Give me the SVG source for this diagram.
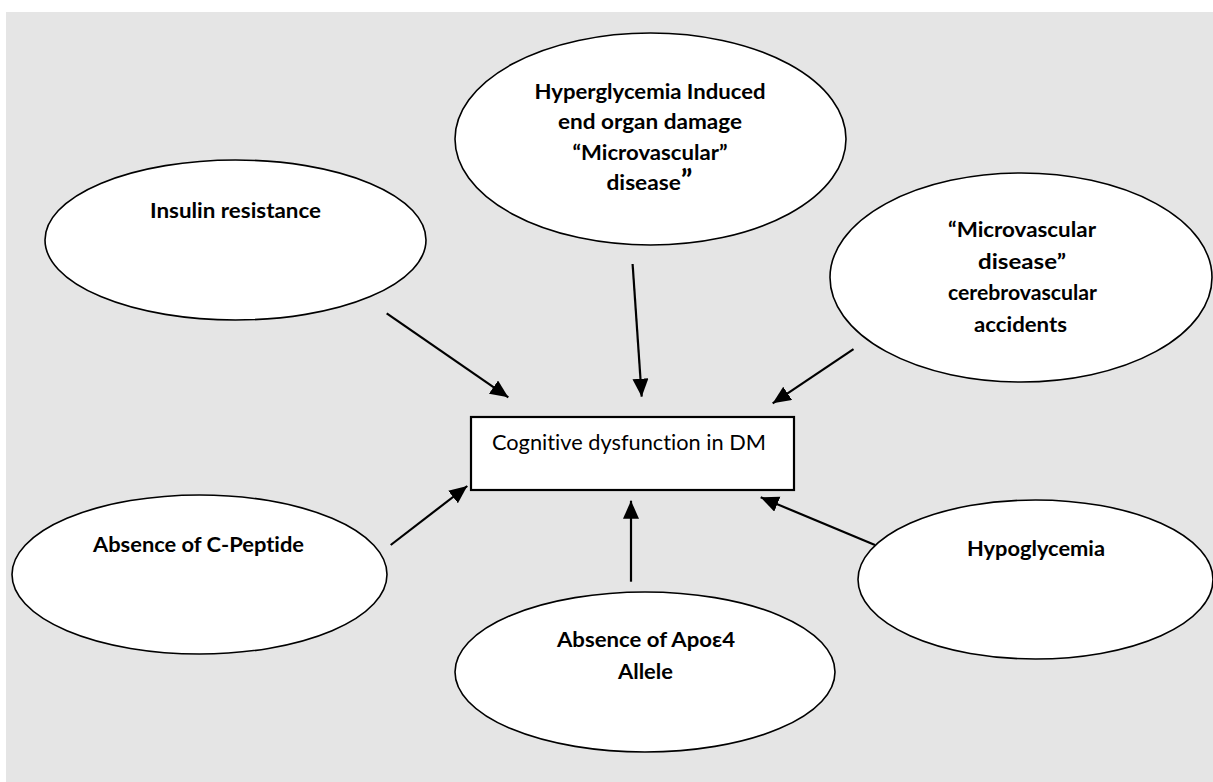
<svg xmlns="http://www.w3.org/2000/svg" width="1213" height="782" viewBox="0 0 1213 782">
  <style>
    .node { fill: #ffffff; stroke: #000000; stroke-width: 1.6; }
    .box { fill: #ffffff; stroke: #000000; stroke-width: 2.2; }
    .lbl { font-family: Lato, "Liberation Sans", sans-serif; font-weight: bold; font-size: 21px; fill: #000000; text-anchor: middle; font-variant-ligatures: none; }
    .main { font-family: Lato, "Liberation Sans", sans-serif; font-size: 21.5px; fill: #000000; font-variant-ligatures: none; }
    .conn line { stroke: #000000; stroke-width: 2.2; marker-end: url(#head); }
  </style>
  <defs>
    <marker id="head" markerUnits="userSpaceOnUse" markerWidth="19" markerHeight="17" refX="18" refY="8" orient="auto">
      <path d="M0,0 L18,8 L0,16 z" fill="#000000"/>
    </marker>
  </defs>

  <rect x="0" y="0" width="1213" height="782" fill="#ffffff"/>
  <rect x="6" y="12" width="1207" height="770" fill="#e5e5e5"/>

  <g id="node-insulin">
    <ellipse class="node" cx="235.5" cy="240" rx="190.5" ry="80"/>
    <text class="lbl" x="235.5" y="218" textLength="171" lengthAdjust="spacingAndGlyphs">Insulin resistance</text>
  </g>

  <g id="node-hyperglycemia">
    <ellipse class="node" cx="650.5" cy="139" rx="195.5" ry="106"/>
    <text class="lbl" x="650" y="99" textLength="231" lengthAdjust="spacingAndGlyphs">Hyperglycemia Induced</text>
    <text class="lbl" x="650" y="129" textLength="184" lengthAdjust="spacingAndGlyphs">end organ damage</text>
    <text class="lbl" x="650" y="160" textLength="155" lengthAdjust="spacingAndGlyphs">“Microvascular”</text>
    <text class="lbl" x="649.5" y="190" textLength="86" lengthAdjust="spacingAndGlyphs">disease<tspan font-size="28">”</tspan></text>
  </g>

  <g id="node-cerebrovascular">
    <ellipse class="node" cx="1021" cy="277.5" rx="191" ry="104.5"/>
    <text class="lbl" x="1022" y="237" textLength="148" lengthAdjust="spacingAndGlyphs">“Microvascular</text>
    <text class="lbl" x="1022" y="269" textLength="88" lengthAdjust="spacingAndGlyphs">disease”</text>
    <text class="lbl" x="1022.5" y="300" textLength="149" lengthAdjust="spacingAndGlyphs">cerebrovascular</text>
    <text class="lbl" x="1020.5" y="331.5" textLength="93" lengthAdjust="spacingAndGlyphs">accidents</text>
  </g>

  <g id="node-cognitive">
    <rect class="box" x="471" y="417" width="323" height="73"/>
    <text class="main" x="492" y="450" textLength="274" lengthAdjust="spacingAndGlyphs">Cognitive dysfunction in DM</text>
  </g>

  <g id="node-cpeptide">
    <ellipse class="node" cx="199.5" cy="574.5" rx="187.5" ry="79.5"/>
    <text class="lbl" x="198.5" y="552" textLength="211" lengthAdjust="spacingAndGlyphs">Absence of C-Peptide</text>
  </g>

  <g id="node-apoe4">
    <ellipse class="node" cx="645" cy="672" rx="190" ry="80"/>
    <text class="lbl" x="646" y="647" textLength="178" lengthAdjust="spacingAndGlyphs">Absence of Apoε4</text>
    <text class="lbl" x="645.5" y="679" textLength="55" lengthAdjust="spacingAndGlyphs">Allele</text>
  </g>

  <g id="node-hypoglycemia">
    <ellipse class="node" cx="1035.5" cy="579.5" rx="177.5" ry="79.5"/>
    <text class="lbl" x="1036" y="556" textLength="138" lengthAdjust="spacingAndGlyphs">Hypoglycemia</text>
  </g>

  <g id="connectors" class="conn">
    <line x1="386.7" y1="313.3" x2="508.3" y2="397.3"/>
    <line x1="632.6" y1="264" x2="641.7" y2="396.7"/>
    <line x1="853.5" y1="349.2" x2="772.7" y2="403.3"/>
    <line x1="390.7" y1="545" x2="467.3" y2="486"/>
    <line x1="631" y1="581.7" x2="631" y2="500.7"/>
    <line x1="875" y1="545" x2="760.7" y2="497.3"/>
  </g>
</svg>
